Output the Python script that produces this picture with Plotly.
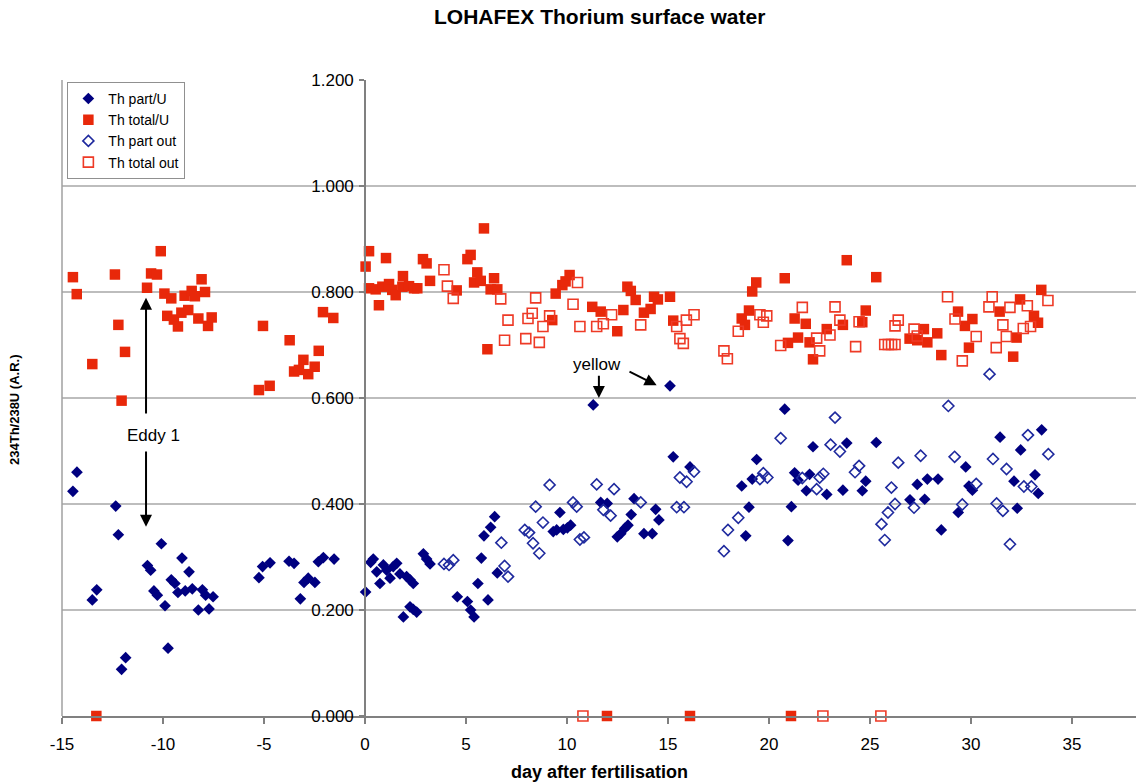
import plotly.graph_objects as go

# ---- data (day after fertilisation, 234Th/238U activity ratio) ----
part_u_day = [-14.46, -14.26, -13.5, -13.28, -12.34, -12.21, -12.05, -11.85, -10.77, -10.61, -10.08, -10.45, -10.28,
              -9.90, -9.75, -9.59, -9.41, -9.26, -9.06, -8.71, -8.90, -8.55, -8.25, -8.05, -7.89, -7.72, -7.52,
              -5.25, -5.07, -4.70, -3.76, -3.51, -3.20, -3.02, -2.81, -2.48, -2.31, -2.06, -1.53,
              0.03, 0.28, 0.41, 0.58, 0.74, 0.91, 1.07, 1.24, 1.40, 1.57, 1.73, 1.90, 2.06, 2.23, 2.39, 2.23, 2.39,
              2.56, 2.89, 3.05, 3.22, 4.57, 5.07, 5.23, 5.40, 5.59, 5.76, 6.09, 5.89, 6.22, 6.42, 6.55,
              9.32, 9.49, 9.65, 9.82, 10.02, 10.18, 11.30, 11.67, 11.99, 12.49, 12.66, 12.86, 13.02, 13.18, 13.32,
              13.81, 14.22, 14.39, 14.55, 15.10, 15.26, 16.09,
              18.65, 18.85, 19.01, 19.17, 19.39, 20.78, 20.94, 21.11, 21.27, 21.44, 21.85, 22.01, 22.18, 22.86,
              23.66, 23.85, 24.62, 24.79, 25.31, 26.98, 27.34, 27.71, 27.84, 28.37, 28.53, 29.37, 29.74, 29.90,
              30.07, 31.44, 32.13, 32.29, 32.46, 33.17, 33.33, 33.50]
part_u_val = [0.424, 0.460, 0.219, 0.238, 0.396, 0.342, 0.088, 0.110, 0.284, 0.275, 0.325, 0.236, 0.228,
              0.208, 0.128, 0.257, 0.250, 0.233, 0.298, 0.272, 0.236, 0.240, 0.200, 0.238, 0.228, 0.202, 0.225,
              0.261, 0.282, 0.289, 0.292, 0.288, 0.221, 0.252, 0.260, 0.252, 0.291, 0.299, 0.296,
              0.234, 0.290, 0.296, 0.272, 0.250, 0.285, 0.275, 0.260, 0.282, 0.288, 0.268, 0.187, 0.263, 0.257, 0.250, 0.206, 0.201,
              0.196, 0.306, 0.296, 0.287, 0.225, 0.216, 0.200, 0.187, 0.250, 0.298, 0.219, 0.340, 0.356, 0.376, 0.270,
              0.348, 0.351, 0.384, 0.352, 0.355, 0.360, 0.587, 0.403, 0.401, 0.338, 0.344, 0.354, 0.360, 0.380, 0.410,
              0.344, 0.344, 0.390, 0.370, 0.623, 0.489, 0.470,
              0.434, 0.340, 0.394, 0.447, 0.484, 0.579, 0.331, 0.395, 0.459, 0.445, 0.425, 0.456, 0.508, 0.418,
              0.426, 0.515, 0.425, 0.443, 0.516, 0.408, 0.437, 0.409, 0.447, 0.447, 0.351, 0.384, 0.470, 0.434,
              0.426, 0.526, 0.443, 0.392, 0.502, 0.455, 0.420, 0.540]

total_u_day = [-14.46, -14.27, -13.5, -12.38, -12.21, -11.88, -12.05, -10.79, -10.59, -10.30, -10.11, -9.93, -9.59,
               -9.79, -9.46, -9.26, -9.09, -8.75, -8.93, -8.58, -8.42, -8.09, -7.92, -8.25, -7.77, -7.59,
               -5.25, -4.72, -5.05, -3.73, -3.51, -3.05, -3.27, -2.81, -2.49, -2.29, -2.08, -1.57,
               0.03, 0.20, 1.04, 0.20, 0.53, 0.86, 1.19, 1.35, 1.52, 1.88, 1.85, 2.18, 2.43, 2.59, 0.69,
               2.87, 3.05, 3.22, 4.54, 5.07, 5.23, 5.56, 5.40, 5.73, 5.89, 6.39, 6.22, 6.55, 6.06,
               9.27, 9.44, 9.77, 9.93, 10.13, 11.25, 11.67, 12.49, 12.79, 12.99, 13.16, 13.40, 13.81, 14.14,
               14.31, 14.50, 15.10, 15.26,
               18.65, 18.81, 19.01, 19.17, 19.37, 20.78, 20.94, 21.27, 21.44, 21.82, 22.01, 22.18, 22.86, 23.66,
               23.85, 24.62, 24.79, 25.31, 26.96, 27.34, 27.67, 27.84, 28.33, 28.53, 29.36, 29.70, 29.90, 30.07,
               31.42, 32.09, 32.26, 32.43, 33.12, 33.32, 33.48,
               -13.3, 11.98, 16.09, 21.09]
total_u_val = [0.828, 0.796, 0.664, 0.833, 0.738, 0.687, 0.595, 0.808, 0.835, 0.833, 0.877, 0.797, 0.788,
               0.755, 0.748, 0.735, 0.761, 0.766, 0.793, 0.802, 0.792, 0.824, 0.800, 0.750, 0.736, 0.752,
               0.615, 0.623, 0.736, 0.709, 0.650, 0.672, 0.653, 0.645, 0.659, 0.689, 0.762, 0.751,
               0.848, 0.877, 0.864, 0.807, 0.805, 0.810, 0.815, 0.804, 0.794, 0.830, 0.810, 0.811, 0.807, 0.807, 0.775,
               0.862, 0.854, 0.821, 0.803, 0.862, 0.870, 0.837, 0.818, 0.821, 0.920, 0.826, 0.805, 0.805, 0.692,
               0.747, 0.797, 0.813, 0.820, 0.832, 0.772, 0.763, 0.726, 0.766, 0.810, 0.802, 0.785, 0.761, 0.768,
               0.791, 0.786, 0.791, 0.746,
               0.750, 0.738, 0.765, 0.801, 0.818, 0.826, 0.704, 0.750, 0.714, 0.740, 0.705, 0.673, 0.730, 0.738,
               0.860, 0.743, 0.765, 0.828, 0.712, 0.709, 0.730, 0.705, 0.722, 0.681, 0.763, 0.736, 0.695, 0.749,
               0.763, 0.678, 0.714, 0.786, 0.755, 0.742, 0.804,
               0.0, 0.0, 0.0, 0.0]

part_out_day = [3.91, 4.16, 4.37, 6.75, 6.91, 7.08, 7.91, 8.12, 8.32, 8.63, 8.45, 8.81, 9.14, 10.30, 10.48, 10.64,
                10.84, 11.47, 11.80, 12.16, 12.33, 13.65, 15.43, 15.79, 15.59, 15.92, 16.29,
                17.77, 17.97, 18.48, 19.55, 19.72, 19.92, 20.58, 21.65, 22.36, 22.51, 22.69, 23.05, 23.27, 23.51,
                24.26, 24.46, 25.57, 25.73, 25.89, 26.06, 26.24, 26.40, 27.18, 27.51, 28.88, 29.19, 29.57, 30.26,
                30.92, 31.09, 31.27, 31.58, 31.76, 31.93, 32.62, 32.82, 32.99, 33.83]
part_out_val = [0.287, 0.285, 0.294, 0.327, 0.283, 0.263, 0.351, 0.346, 0.326, 0.307, 0.395, 0.365, 0.436, 0.403, 0.395, 0.333,
                0.337, 0.437, 0.389, 0.378, 0.428, 0.403, 0.394, 0.394, 0.450, 0.442, 0.461,
                0.311, 0.351, 0.374, 0.447, 0.458, 0.450, 0.524, 0.449, 0.428, 0.450, 0.457, 0.512, 0.563, 0.499,
                0.460, 0.472, 0.362, 0.332, 0.384, 0.431, 0.400, 0.478, 0.393, 0.491, 0.585, 0.489, 0.399, 0.438,
                0.645, 0.485, 0.401, 0.387, 0.466, 0.324, 0.433, 0.530, 0.433, 0.494]

total_out_day = [3.91, 4.08, 4.37, 6.72, 7.08, 6.91, 7.96, 8.63, 8.45, 8.28, 8.07, 8.81, 9.14, 10.30, 10.52, 10.64,
                 11.47, 11.80, 12.21, 13.65, 15.43, 15.59, 15.76, 15.91, 16.29,
                 17.77, 17.94, 18.48, 19.55, 19.72, 19.89, 20.58, 21.65, 22.36, 22.51, 23.02, 23.27, 23.51, 24.29,
                 24.46, 25.73, 25.91, 26.07, 26.24, 26.24, 26.40, 27.18, 27.34, 28.84, 29.21, 29.57, 30.26, 30.89,
                 31.05, 31.25, 31.58, 31.75, 31.93, 32.79, 32.59, 32.95, 33.81,
                 10.79, 22.67, 25.54]
total_out_val = [0.842, 0.811, 0.788, 0.787, 0.747, 0.709, 0.712, 0.705, 0.789, 0.760, 0.750, 0.735, 0.755, 0.777, 0.818, 0.735,
                 0.735, 0.740, 0.757, 0.738, 0.735, 0.712, 0.703, 0.747, 0.757,
                 0.689, 0.674, 0.726, 0.757, 0.743, 0.755, 0.699, 0.771, 0.713, 0.689, 0.719, 0.772, 0.747, 0.697,
                 0.744, 0.701, 0.701, 0.701, 0.701, 0.736, 0.747, 0.730, 0.717, 0.791, 0.749, 0.670, 0.716, 0.772,
                 0.791, 0.695, 0.738, 0.716, 0.771, 0.774, 0.731, 0.735, 0.784,
                 0.0, 0.0, 0.0]

x_ticks = [-15, -10, -5, 0, 5, 10, 15, 20, 25, 30, 35]
y_ticks = [0.0, 0.2, 0.4, 0.6, 0.8, 1.0, 1.2]

NAVY = "#000080"
RED = "#E8280A"
FONT = "Arial, Liberation Sans, sans-serif"

fig = go.Figure()
fig.add_trace(go.Scatter(x=part_u_day, y=part_u_val, mode="markers", name="Th part/U", cliponaxis=False,
                         marker=dict(symbol="diamond", size=9, color=NAVY, line=dict(width=0))))
fig.add_trace(go.Scatter(x=total_u_day, y=total_u_val, mode="markers", name="Th total/U", cliponaxis=False,
                         marker=dict(symbol="square", size=10.5, color=RED, line=dict(width=0))))
fig.add_trace(go.Scatter(x=part_out_day, y=part_out_val, mode="markers", name="Th part out", cliponaxis=False,
                         marker=dict(symbol="diamond-open", size=8.5, color="#1F2A9E", line=dict(width=1.6))))
fig.add_trace(go.Scatter(x=total_out_day, y=total_out_val, mode="markers", name="Th total out", cliponaxis=False,
                         marker=dict(symbol="square-open", size=10, color="#EE3A26", line=dict(width=1.6))))

x_min, x_max = -15, 38.17
fig.update_layout(
    width=1136, height=784,
    margin=dict(l=62, r=0, t=80, b=68),
    paper_bgcolor="white", plot_bgcolor="white",
    font=dict(family=FONT, color="black"),
    showlegend=True,
    legend=dict(x=0.005, y=0.997, xanchor="left", yanchor="top", bgcolor="white",
                bordercolor="#909090", borderwidth=1, font=dict(size=14, family=FONT),
                tracegroupgap=0, itemwidth=30),
    xaxis=dict(range=[x_min, x_max], tickvals=x_ticks, ticktext=[str(v) for v in x_ticks],
               showgrid=False, zeroline=False, showline=True, linecolor="#808080", linewidth=1.5,
               ticks="outside", ticklen=6, tickcolor="#808080", tickwidth=1.5,
               tickfont=dict(size=17, family=FONT), ticklabelstandoff=6),
    yaxis=dict(range=[0, 1.2], tickvals=y_ticks, tickformat=".3f",
               anchor="free", position=(0 - x_min) / (x_max - x_min),
               showgrid=True, gridcolor="#BDBDBD", gridwidth=1.5, zeroline=False,
               showline=True, linecolor="#808080", linewidth=1.5,
               ticks="outside", ticklen=5, tickcolor="#808080", tickwidth=1.5,
               tickfont=dict(size=17, family=FONT), ticklabelstandoff=2),
)

# left border of the plot area
fig.add_shape(type="line", xref="paper", yref="paper", x0=0, x1=0, y0=0, y1=1,
              line=dict(color="#A0A0A0", width=1.5))

# titles
fig.add_annotation(text="<b>LOHAFEX Thorium surface water</b>", xref="paper", yref="paper",
                   x=0.5, y=(784 - 17 - 68) / 636, xanchor="center", yanchor="middle",
                   showarrow=False, font=dict(size=21, family=FONT))
fig.add_annotation(text="<b>day after fertilisation</b>", xref="paper", yref="paper",
                   x=0.5, y=-(772 - 716) / 636, xanchor="center", yanchor="middle",
                   showarrow=False, font=dict(size=18, family=FONT))
fig.add_annotation(text="<b>234Th/238U (A.R.)</b>", xref="paper", yref="paper",
                   x=-(62 - 14) / 1074, y=(716 - 410) / 636, xanchor="center", yanchor="middle",
                   textangle=-90, showarrow=False, font=dict(size=13, family=FONT))

# Eddy 1 label and arrows
fig.add_annotation(text="Eddy 1", x=-10.45, y=0.530, xref="x", yref="y", showarrow=False,
                   font=dict(size=17, family=FONT))
fig.add_annotation(text="", x=-10.84, y=0.789, ax=-10.84, ay=0.568, xref="x", yref="y",
                   axref="x", ayref="y", showarrow=True, arrowhead=2, arrowsize=1.2, arrowwidth=2,
                   arrowcolor="black")
fig.add_annotation(text="", x=-10.84, y=0.357, ax=-10.84, ay=0.502, xref="x", yref="y",
                   axref="x", ayref="y", showarrow=True, arrowhead=2, arrowsize=1.2, arrowwidth=2,
                   arrowcolor="black")

# yellow label and arrows
fig.add_annotation(text="yellow", x=11.49, y=0.664, xref="x", yref="y", showarrow=False,
                   font=dict(size=17, family=FONT))
fig.add_annotation(text="", x=11.58, y=0.600, ax=11.58, ay=0.645, xref="x", yref="y",
                   axref="x", ayref="y", showarrow=True, arrowhead=2, arrowsize=1.2, arrowwidth=2,
                   arrowcolor="black")
fig.add_annotation(text="", x=14.44, y=0.624, ax=13.02, ay=0.651, xref="x", yref="y",
                   axref="x", ayref="y", showarrow=True, arrowhead=2, arrowsize=1.2, arrowwidth=2,
                   arrowcolor="black")

fig.write_html("out.html")
